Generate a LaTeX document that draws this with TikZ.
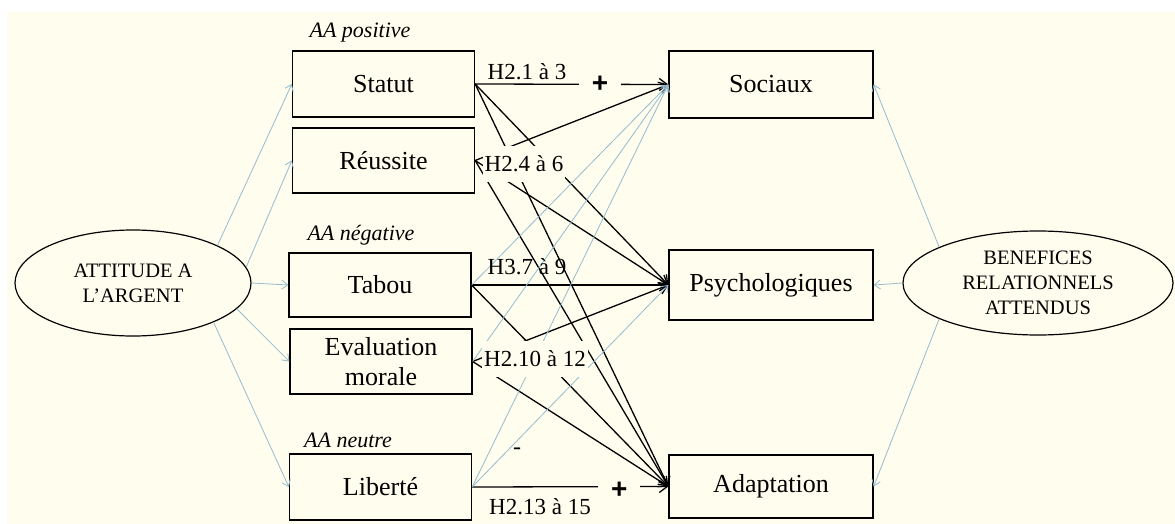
\documentclass[tikz,border=0pt]{standalone}
\usepackage{fontspec}
\setmainfont{Liberation Serif}
\newfontfamily\plusfont{Liberation Sans}
\usetikzlibrary{arrows.meta,shapes.geometric}
\definecolor{cream}{HTML}{FFFDEE}
\definecolor{lite}{RGB}{150,188,206}
\begin{document}
\begin{tikzpicture}[x=1pt,y=-1pt,
  box/.style={draw=black, line width=1.3pt, fill=cream, inner sep=0pt, align=center,
    font=\fontsize{26}{30}\selectfont},
  lbox/.style={box, minimum width=182pt, minimum height=65pt},
  rbox/.style={box, minimum width=204pt, minimum height=66pt},
  oval/.style={draw=black, ellipse, line width=1.2pt, fill=cream, inner sep=0pt, align=center,
    font=\fontsize{20.5}{25}\selectfont},
  hyp/.style={draw=black, line width=1.3pt, -{Straight Barb[length=8pt,width=12pt]}},
  weak/.style={draw=lite, line width=0.8pt, -{Straight Barb[length=6pt,width=9pt]}},
  hyplab/.style={inner xsep=2pt, inner ysep=2pt, font=\fontsize{23}{26}\selectfont},
  hide/.style={fill=cream, inner ysep=10pt},
  aalab/.style={inner sep=0pt, font=\fontsize{22}{24}\selectfont\itshape},
  sign/.style={fill=cream, inner xsep=13pt, inner ysep=2pt, font=\plusfont\bfseries\fontsize{28}{28}\selectfont},
  minus/.style={inner sep=0pt, font=\fontsize{24}{24}\selectfont}]
\useasboundingbox (0,0) rectangle (1175,524);
\fill[cream] (7,12) rectangle (1175,524);

% nodes
\node[oval, minimum width=236pt, minimum height=106pt] (att) at (133,283) {ATTITUDE A\\L’ARGENT};
\node[oval, minimum width=270pt, minimum height=104pt] (ben) at (1038,283) {BENEFICES\\RELATIONNELS\\ATTENDUS};

\node[lbox, minimum height=66pt] (statut) at (383.5,84) {Statut};
\node[lbox] (reussite) at (383.5,160.5) {Réussite};
\node[lbox, minimum height=64pt] (tabou) at (380,285) {Tabou};
\node[lbox] (eval) at (381,361.5) {Evaluation\\morale};
\node[lbox, minimum height=66pt] (liberte) at (380.5,487) {Liberté};

\node[rbox, minimum height=67pt] (sociaux) at (771,84.5) {Sociaux};
\node[rbox, minimum height=70pt] (psych) at (771,285) {Psychologiques};
\node[rbox, minimum height=63pt] (adapt) at (771,486.5) {Adaptation};

% attitude -> dimensions
\draw[weak] (att.24) -- (statut.west);
\draw[weak] (att.8) -- (reussite.west);
\draw[weak] (att.0) -- (tabou.west);
\draw[weak] (att.-14) -- (eval.west);
\draw[weak] (att.-26) -- (liberte.west);

% benefices -> dimensions
\draw[weak] (ben.160) -- (sociaux.east);
\draw[weak] (ben.180) -- (psych.east);
\draw[weak] (ben.200) -- (adapt.east);

% significant hypotheses
\draw[hyp] (statut.east) -- node[sign, pos=0.646] (p1) {+} (sociaux.west);
\draw[hyp] (statut.east) -- (psych.west);
\draw[hyp] (statut.east) -- (adapt.west);
\draw[hyp] (reussite.east) -- (sociaux.west);
\draw[hyp] (reussite.east) -- (psych.west);
\draw[hyp] (reussite.east) -- (adapt.west);
\draw[hyp] (tabou.east) -- (psych.west);
\draw[hyp] (tabou.east) -- (adapt.west);
\draw[hyp] (eval.east) -- (psych.west);
\draw[hyp] (eval.east) -- (adapt.west);
\draw[hyp] (liberte.east) -- node[sign, pos=0.75, yshift=-4pt] (p2) {+} (adapt.west);

% non significant
\draw[weak] (tabou.east) -- (sociaux.west);
\draw[weak] (eval.east) -- (sociaux.west);
\draw[weak] (liberte.east) -- (sociaux.west);
\draw[weak] (liberte.east) -- (psych.west);

% labels
\node[hyplab] (h1) at (527,72) {H2.1 à 3};
\node[hyplab, hide] (h2) at (524,164) {H2.4 à 6};
\node[hyplab] (h3) at (527,267) {H3.7 à 9};
\node[hyplab, hide] (h4) at (535,359) {H2.10 à 12};
\node[hyplab] (h5) at (540,507) {H2.13 à 15};
\node[minus] (m1) at (517,451) {-};

\node[aalab] (aa1) at (360,33) {AA positive};
\node[aalab] (aa2) at (361,235) {AA négative};
\node[aalab] (aa3) at (348,440) {AA neutre};
\end{tikzpicture}
\end{document}
